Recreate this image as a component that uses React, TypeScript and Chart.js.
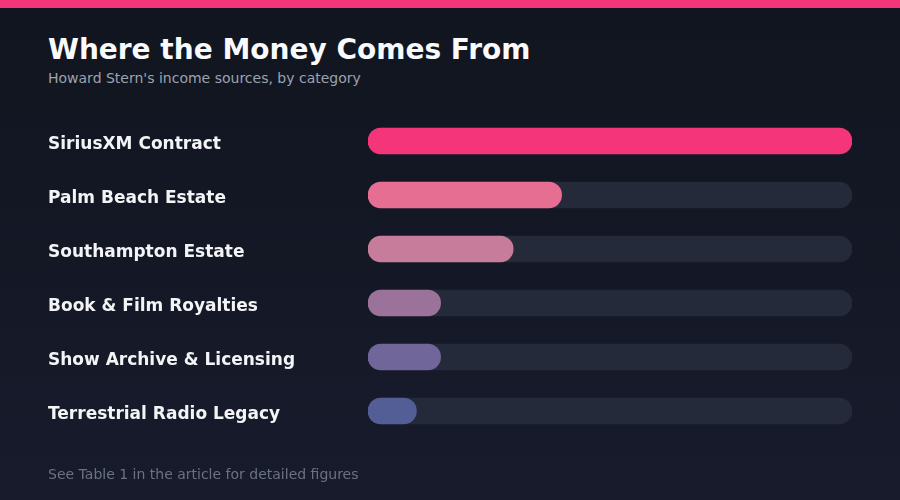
import React, { useEffect, useRef } from "react";
import { Chart, registerables } from "chart.js";

Chart.register(...registerables);

// income categories and their share (max = 100)
const categories = [
  "SiriusXM Contract",
  "Palm Beach Estate",
  "Southampton Estate",
  "Book & Film Royalties",
  "Show Archive & Licensing",
  "Terrestrial Radio Legacy",
];
const shares = [100, 40, 30, 15, 15, 10];
const trackValues = [100, 100, 100, 100, 100, 100];
const barColors = ["#f5357a", "#e66e92", "#c87c9b", "#9b7299", "#706699", "#545e96"];

const FONT = "'DejaVu Sans', Verdana, sans-serif";

export default function App() {
  const canvasRef = useRef<HTMLCanvasElement>(null);

  useEffect(() => {
    document.body.style.margin = "0";
    const canvas = canvasRef.current;
    if (!canvas) return;

    const chart = new Chart(canvas, {
      type: "bar",
      data: {
        labels: categories,
        datasets: [
          {
            data: shares,
            backgroundColor: barColors,
            borderRadius: 13,
            borderSkipped: false,
            barThickness: 26,
            grouped: false,
            order: 1,
          },
          {
            // background track behind each bar
            data: trackValues,
            backgroundColor: "#252a3a",
            borderRadius: 13,
            borderSkipped: false,
            barThickness: 26,
            grouped: false,
            order: 2,
          },
        ],
      },
      options: {
        indexAxis: "y",
        animation: false,
        responsive: false,
        maintainAspectRatio: false,
        layout: { padding: { left: 48, right: 48, top: 114, bottom: 62 } },
        plugins: {
          legend: { display: false },
          tooltip: { enabled: false },
        },
        scales: {
          x: { display: false, min: 0, max: 100 },
          y: {
            border: { display: false },
            grid: { display: false, drawTicks: false },
            ticks: {
              crossAlign: "far",
              padding: 0,
              labelOffset: 4,
              color: "#f3f4f6",
              font: { family: FONT, size: 17, weight: "bold" },
            },
            afterFit(scale: any) {
              scale.width = 320;
            },
          },
        },
      },
    });

    return () => chart.destroy();
  }, []);

  return (
    <div
      style={{
        position: "relative",
        width: 900,
        height: 500,
        overflow: "hidden",
        background: "linear-gradient(180deg, #11151f 0%, #171b2c 100%)",
        fontFamily: FONT,
      }}
    >
      <div style={{ position: "absolute", left: 0, top: 0, width: 900, height: 8, background: "#f5357a" }} />
      <div
        style={{
          position: "absolute",
          left: 48,
          top: 32,
          fontSize: 28,
          fontWeight: "bold",
          color: "#f8fafc",
          lineHeight: "36px",
          whiteSpace: "nowrap",
        }}
      >
        Where the Money Comes From
      </div>
      <div
        style={{
          position: "absolute",
          left: 48,
          top: 68,
          fontSize: 14,
          color: "#9ca3af",
          lineHeight: "20px",
          whiteSpace: "nowrap",
        }}
      >
        Howard Stern's income sources, by category
      </div>
      <canvas
        ref={canvasRef}
        width={900}
        height={500}
        style={{ position: "absolute", left: 0, top: 0, width: 900, height: 500 }}
      />
      <div
        style={{
          position: "absolute",
          left: 48,
          top: 464,
          fontSize: 14,
          color: "#6b7280",
          lineHeight: "20px",
          whiteSpace: "nowrap",
        }}
      >
        See Table 1 in the article for detailed figures
      </div>
    </div>
  );
}
